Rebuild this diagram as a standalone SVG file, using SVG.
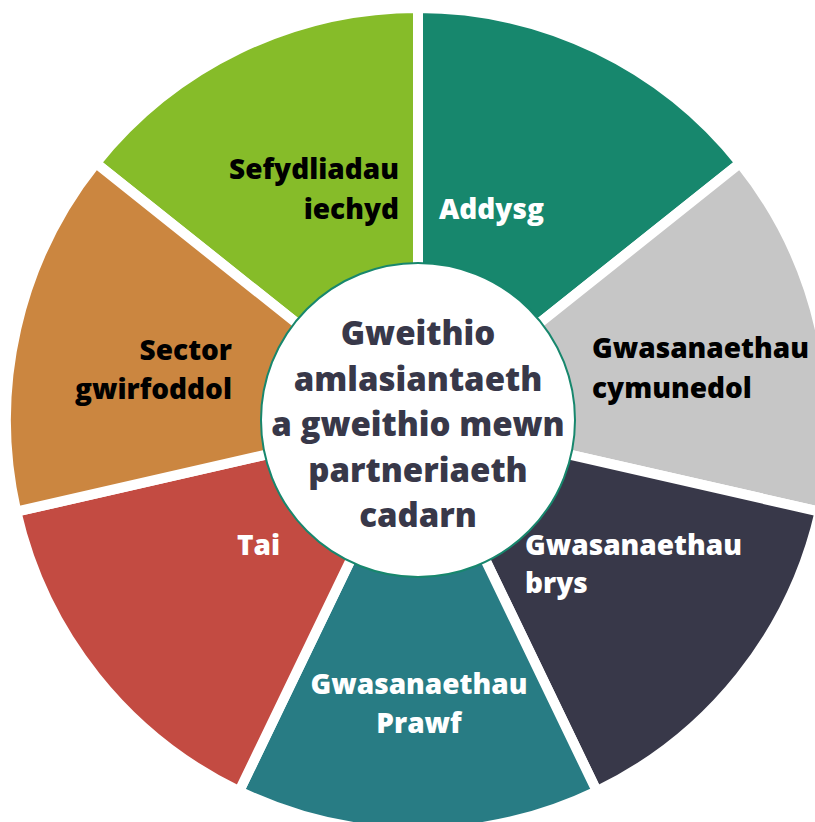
<svg xmlns="http://www.w3.org/2000/svg" width="815" height="822" viewBox="0 0 815 822">
<style>
  .seg { stroke: #ffffff; stroke-width: 10; stroke-linejoin: round; }
  .lbl { font-family: "Open Sans", "Liberation Sans", sans-serif; font-weight: 800; font-size: 28px; }
  .dark { fill: #000000; }
  .light { fill: #ffffff; }
  .center { font-family: "Open Sans", "Liberation Sans", sans-serif; font-weight: 800; font-size: 33px; fill: #383849; text-anchor: middle; }
</style>
<rect width="815" height="822" fill="#ffffff"/>
<g id="seg-iechyd">
  <path class="seg" fill="#86BC29" d="M418,420 L95.9,163.1 A412,412 0 0 1 418,8 Z"/>
  <text class="lbl dark" text-anchor="end"><tspan x="399" y="179">Sefydliadau</tspan><tspan x="399" y="219">iechyd</tspan></text>
</g>
<g id="seg-addysg">
  <path class="seg" fill="#17876D" d="M418,420 L418,8 A412,412 0 0 1 740.1,163.1 Z"/>
  <text class="lbl light" x="439" y="219">Addysg</text>
</g>
<g id="seg-cymunedol">
  <path class="seg" fill="#C6C6C6" d="M418,420 L740.1,163.1 A412,412 0 0 1 819.7,511.7 Z"/>
  <text class="lbl dark"><tspan x="592" y="358">Gwasanaethau</tspan><tspan x="592" y="398">cymunedol</tspan></text>
</g>
<g id="seg-brys">
  <path class="seg" fill="#383849" d="M418,420 L819.7,511.7 A412,412 0 0 1 596.8,791.2 Z"/>
  <text class="lbl light"><tspan x="525" y="555">Gwasanaethau</tspan><tspan x="525" y="593">brys</tspan></text>
</g>
<g id="seg-prawf">
  <path class="seg" fill="#287C84" d="M418,420 L596.8,791.2 A412,412 0 0 1 239.2,791.2 Z"/>
  <text class="lbl light" text-anchor="middle"><tspan x="419" y="694">Gwasanaethau</tspan><tspan x="419" y="733">Prawf</tspan></text>
</g>
<g id="seg-tai">
  <path class="seg" fill="#C34B42" d="M418,420 L239.2,791.2 A412,412 0 0 1 16.3,511.7 Z"/>
  <text class="lbl light" x="237" y="555">Tai</text>
</g>
<g id="seg-gwirfoddol">
  <path class="seg" fill="#CB8640" d="M418,420 L16.3,511.7 A412,412 0 0 1 95.9,163.1 Z"/>
  <text class="lbl dark" text-anchor="end"><tspan x="232" y="360">Sector</tspan><tspan x="232" y="399">gwirfoddol</tspan></text>
</g>
<g id="hub">
  <circle cx="418" cy="420" r="157" fill="#ffffff" stroke="#17876D" stroke-width="2"/>
  <text class="center"><tspan x="418" y="345">Gweithio</tspan><tspan x="418" y="390.5">amlasiantaeth</tspan><tspan x="418" y="436">a gweithio mewn</tspan><tspan x="418" y="481.5">partneriaeth</tspan><tspan x="418" y="527">cadarn</tspan></text>
</g>
<g id="connectors"></g>
</svg>
